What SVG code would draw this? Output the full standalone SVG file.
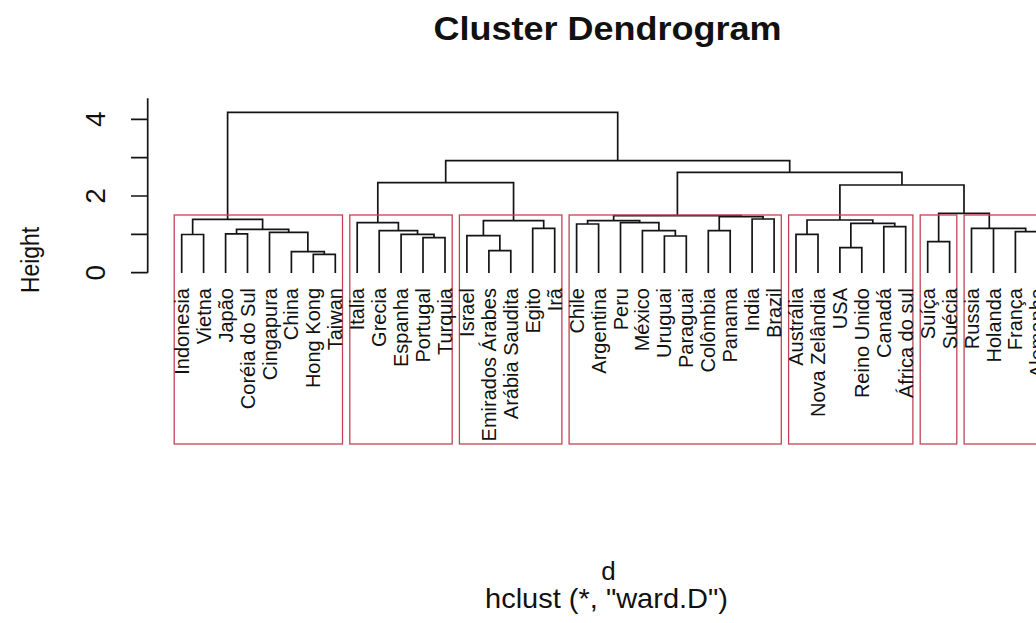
<svg xmlns="http://www.w3.org/2000/svg" width="1036" height="623" viewBox="0 0 1036 623">
  <style>
    .txt { font-family: "Liberation Sans", Arial, sans-serif; fill: #111; }
    .title { font-size: 33px; font-weight: bold; }
    .lab { font-size: 28px; }
    .leaf { font-size: 20px; }
    .branch { fill: none; stroke: #141414; stroke-width: 1.7; }
    .box { fill: none; stroke: #C24454; stroke-width: 1.3; }
    .axis { fill: none; stroke: #141414; stroke-width: 1.7; }
  </style>
  <rect width="1036" height="623" fill="#ffffff"/>

  <!-- Title and axis titles -->
  <text class="txt title" x="607.5" y="40" text-anchor="middle" textLength="348" lengthAdjust="spacingAndGlyphs">Cluster Dendrogram</text>
  <text class="txt" x="608.5" y="579.5" text-anchor="middle" font-size="26">d</text>
  <text class="txt lab" x="606.5" y="608.3" text-anchor="middle" textLength="243" lengthAdjust="spacingAndGlyphs">hclust (*, "ward.D")</text>
  <text class="txt" transform="translate(39,260) rotate(-90)" text-anchor="middle" font-size="25" textLength="66" lengthAdjust="spacingAndGlyphs">Height</text>

  <!-- Height axis -->
  <g id="y-axis">
    <path class="axis" d="M147.7 98.3 V272.7 M131 272.7 H147.7 M131 234.3 H147.7 M131 196 H147.7 M131 157.7 H147.7 M131 119.3 H147.7"/>
    <text class="txt lab" transform="translate(105,272.7) rotate(-90)" text-anchor="middle">0</text>
    <text class="txt lab" transform="translate(105,196) rotate(-90)" text-anchor="middle">2</text>
    <text class="txt lab" transform="translate(105,119.3) rotate(-90)" text-anchor="middle">4</text>
  </g>

  <!-- Dendrogram branches: each path is one merge (left leg, bar, right leg) -->
  <g id="connectors">
    <!-- cluster 1 -->
    <path class="branch" d="M181.7 273 V234.5 H203.6 V273"/>
    <path class="branch" d="M225.6 273 V233.8 H247.5 V273"/>
    <path class="branch" d="M313.3 273 V254.3 H335.3 V273"/>
    <path class="branch" d="M291.4 273 V251.7 H324.3 V254.3"/>
    <path class="branch" d="M269.5 273 V232.3 H307.85 V251.7"/>
    <path class="branch" d="M236.55 233.8 V229.3 H288.7 V232.3"/>
    <path class="branch" d="M192.65 234.5 V219.3 H262.6 V229.3"/>
    <!-- cluster 2 -->
    <path class="branch" d="M423 273 V237.7 H445 V273"/>
    <path class="branch" d="M401.1 273 V234.3 H434 V237.7"/>
    <path class="branch" d="M379.2 273 V230.7 H417.55 V234.3"/>
    <path class="branch" d="M357.2 273 V222.7 H398.4 V230.7"/>
    <!-- cluster 3 -->
    <path class="branch" d="M488.9 273 V250.7 H510.8 V273"/>
    <path class="branch" d="M466.9 273 V235.7 H499.85 V250.7"/>
    <path class="branch" d="M532.7 273 V228.3 H554.7 V273"/>
    <path class="branch" d="M483.4 235.7 V220.7 H543.7 V228.3"/>
    <!-- cluster 4 -->
    <path class="branch" d="M576.6 273 V224 H598.6 V273"/>
    <path class="branch" d="M664.4 273 V236 H686.3 V273"/>
    <path class="branch" d="M642.4 273 V230.7 H675.35 V236"/>
    <path class="branch" d="M620.5 273 V222.7 H658.9 V230.7"/>
    <path class="branch" d="M587.6 224 V220.7 H639.7 V222.7"/>
    <path class="branch" d="M708.3 273 V230.7 H730.2 V273"/>
    <path class="branch" d="M752.1 273 V219 H774.1 V273"/>
    <path class="branch" d="M719.25 230.7 V216.7 H763.1 V219"/>
    <path class="branch" d="M613.65 220.7 V215.7 H741.2 V216.7"/>
    <!-- cluster 5 -->
    <path class="branch" d="M796 273 V234.3 H818 V273"/>
    <path class="branch" d="M839.9 273 V247.7 H861.8 V273"/>
    <path class="branch" d="M883.8 273 V226.7 H905.7 V273"/>
    <path class="branch" d="M850.85 247.7 V223.3 H894.75 V226.7"/>
    <path class="branch" d="M807 234.3 V220 H872.8 V223.3"/>
    <!-- cluster 6 -->
    <path class="branch" d="M927.7 273 V241.7 H949.6 V273"/>
    <!-- cluster 7 (runs past the right edge) -->
    <path class="branch" d="M971.5 273 V228.3 H1025.7 V231.7"/>
    <path class="branch" d="M993.5 273 V228.3"/>
    <path class="branch" d="M1015.4 273 V231.7 H1045"/>
    <path class="branch" d="M1037.4 273 V231.7"/>
    <!-- upper merges -->
    <path class="branch" d="M938.65 241.7 V213.3 H989.3 V228.3"/>
    <path class="branch" d="M839.9 220 V185 H964 V213.3"/>
    <path class="branch" d="M677.4 215.7 V172.3 H901.95 V185"/>
    <path class="branch" d="M377.8 222.7 V182.7 H513.55 V220.7"/>
    <path class="branch" d="M445.7 182.7 V160.7 H789.7 V172.3"/>
    <path class="branch" d="M227.6 219.3 V112.3 H617.7 V160.7"/>
  </g>

  <!-- Cluster boxes with their leaf labels -->
  <g id="cluster-1">
    <rect class="box" x="174.2" y="215" width="168.3" height="229"/>
    <text class="txt leaf" transform="translate(188.7,288) rotate(-90)" text-anchor="end">Indonesia</text>
    <text class="txt leaf" transform="translate(210.6,288) rotate(-90)" text-anchor="end">Vietna</text>
    <text class="txt leaf" transform="translate(232.6,288) rotate(-90)" text-anchor="end">Japão</text>
    <text class="txt leaf" transform="translate(254.5,288) rotate(-90)" text-anchor="end">Coréia do Sul</text>
    <text class="txt leaf" transform="translate(276.5,288) rotate(-90)" text-anchor="end">Cingapura</text>
    <text class="txt leaf" transform="translate(298.4,288) rotate(-90)" text-anchor="end">China</text>
    <text class="txt leaf" transform="translate(320.3,288) rotate(-90)" text-anchor="end">Hong Kong</text>
    <text class="txt leaf" transform="translate(342.3,288) rotate(-90)" text-anchor="end">Taiwan</text>
  </g>
  <g id="cluster-2">
    <rect class="box" x="349.8" y="215" width="102.4" height="229"/>
    <text class="txt leaf" transform="translate(364.2,288) rotate(-90)" text-anchor="end">Italia</text>
    <text class="txt leaf" transform="translate(386.2,288) rotate(-90)" text-anchor="end">Grecia</text>
    <text class="txt leaf" transform="translate(408.1,288) rotate(-90)" text-anchor="end">Espanha</text>
    <text class="txt leaf" transform="translate(430,288) rotate(-90)" text-anchor="end">Portugal</text>
    <text class="txt leaf" transform="translate(452,288) rotate(-90)" text-anchor="end">Turquia</text>
  </g>
  <g id="cluster-3">
    <rect class="box" x="459.4" y="215" width="102.5" height="229"/>
    <text class="txt leaf" transform="translate(473.9,288) rotate(-90)" text-anchor="end">Israel</text>
    <text class="txt leaf" transform="translate(495.9,288) rotate(-90)" text-anchor="end">Emirados Árabes</text>
    <text class="txt leaf" transform="translate(517.8,288) rotate(-90)" text-anchor="end">Arábia Saudita</text>
    <text class="txt leaf" transform="translate(539.7,288) rotate(-90)" text-anchor="end">Egito</text>
    <text class="txt leaf" transform="translate(561.7,288) rotate(-90)" text-anchor="end">Irã</text>
  </g>
  <g id="cluster-4">
    <rect class="box" x="569.1" y="215" width="212.2" height="229"/>
    <text class="txt leaf" transform="translate(583.6,288) rotate(-90)" text-anchor="end">Chile</text>
    <text class="txt leaf" transform="translate(605.6,288) rotate(-90)" text-anchor="end">Argentina</text>
    <text class="txt leaf" transform="translate(627.5,288) rotate(-90)" text-anchor="end">Peru</text>
    <text class="txt leaf" transform="translate(649.4,288) rotate(-90)" text-anchor="end">México</text>
    <text class="txt leaf" transform="translate(671.4,288) rotate(-90)" text-anchor="end">Uruguai</text>
    <text class="txt leaf" transform="translate(693.3,288) rotate(-90)" text-anchor="end">Paraguai</text>
    <text class="txt leaf" transform="translate(715.3,288) rotate(-90)" text-anchor="end">Colômbia</text>
    <text class="txt leaf" transform="translate(737.2,288) rotate(-90)" text-anchor="end">Panama</text>
    <text class="txt leaf" transform="translate(759.1,288) rotate(-90)" text-anchor="end">India</text>
    <text class="txt leaf" transform="translate(781.1,288) rotate(-90)" text-anchor="end">Brazil</text>
  </g>
  <g id="cluster-5">
    <rect class="box" x="788.6" y="215" width="124.3" height="229"/>
    <text class="txt leaf" transform="translate(803,288) rotate(-90)" text-anchor="end">Austrália</text>
    <text class="txt leaf" transform="translate(825,288) rotate(-90)" text-anchor="end">Nova Zelândia</text>
    <text class="txt leaf" transform="translate(846.9,288) rotate(-90)" text-anchor="end">USA</text>
    <text class="txt leaf" transform="translate(868.8,288) rotate(-90)" text-anchor="end">Reino Unido</text>
    <text class="txt leaf" transform="translate(890.8,288) rotate(-90)" text-anchor="end">Canadá</text>
    <text class="txt leaf" transform="translate(912.7,288) rotate(-90)" text-anchor="end">África do sul</text>
  </g>
  <g id="cluster-6">
    <rect class="box" x="920.2" y="215" width="36.6" height="229"/>
    <text class="txt leaf" transform="translate(934.7,288) rotate(-90)" text-anchor="end">Suíça</text>
    <text class="txt leaf" transform="translate(956.6,288) rotate(-90)" text-anchor="end">Suécia</text>
  </g>
  <g id="cluster-7">
    <rect class="box" x="964.1" y="215" width="100" height="229"/>
    <text class="txt leaf" transform="translate(978.5,288) rotate(-90)" text-anchor="end">Russia</text>
    <text class="txt leaf" transform="translate(1000.5,288) rotate(-90)" text-anchor="end">Holanda</text>
    <text class="txt leaf" transform="translate(1022.4,288) rotate(-90)" text-anchor="end">França</text>
    <text class="txt leaf" transform="translate(1044.4,288) rotate(-90)" text-anchor="end">Alemanha</text>
  </g>
</svg>
